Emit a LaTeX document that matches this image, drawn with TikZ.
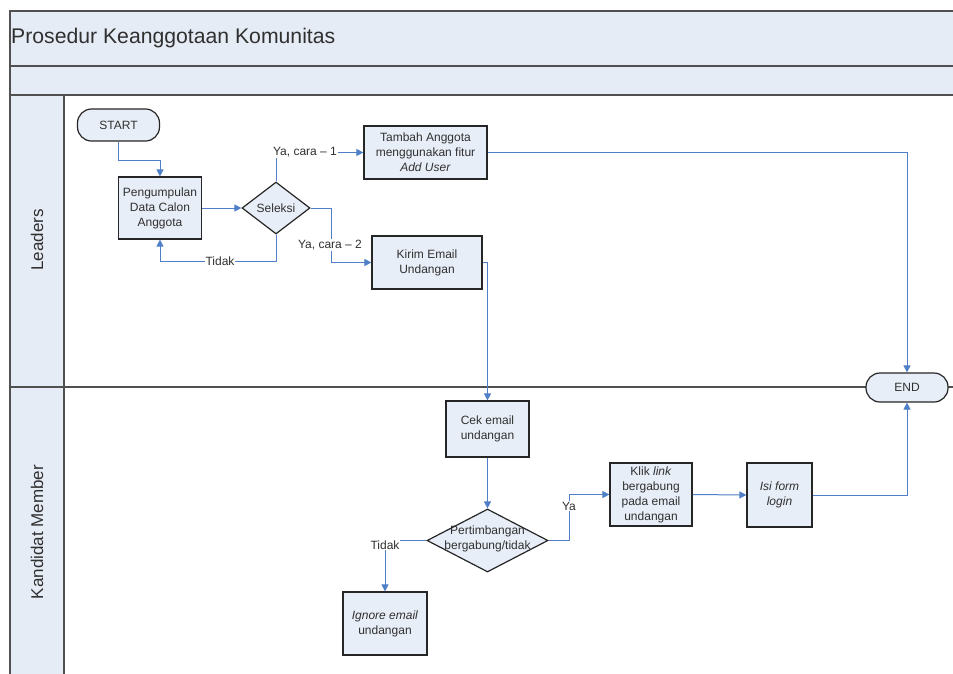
\documentclass[tikz,border=0pt]{standalone}
\usepackage{fontspec}
\setmainfont{Liberation Sans}
\usetikzlibrary{shapes.geometric,arrows.meta}
\definecolor{lanefill}{HTML}{E6ECF6}
\definecolor{boxfill}{HTML}{E8EEF8}
\definecolor{flow}{HTML}{4F7FC6}
\definecolor{framecol}{HTML}{505050}
\definecolor{inkcol}{HTML}{303030}
\tikzset{
  boxtext/.style={font=\fontsize{12}{15}\selectfont, align=center, text=inkcol},
  process/.style={draw=black!85, line width=1.2pt, fill=boxfill, inner sep=0pt, boxtext},
  terminal/.style={draw=black!85, line width=1.2pt, fill=boxfill, inner sep=0pt,
    rounded corners=14pt, minimum width=82pt, boxtext},
  decision/.style={diamond, draw=black!85, line width=1.2pt, fill=boxfill, inner sep=0pt},
  flowline/.style={draw=flow, line width=1pt, -{Triangle[length=7pt,width=7pt]}},
  lbl/.style={fill=white, inner sep=1pt, font=\fontsize{12}{14}\selectfont, text=inkcol},
  lanebar/.style={draw=framecol, line width=1.1pt, fill=lanefill},
  lanetitle/.style={rotate=90, font=\fontsize{17}{20}\selectfont, text=inkcol},
}
\begin{document}
\begin{tikzpicture}[x=1pt, y=-1pt]
  \useasboundingbox (0,0) rectangle (953,673);
  \clip (0,0) rectangle (953,673);

  % pool header and lane column
  \draw[lanebar] (10,11) rectangle (970,66);
  \draw[lanebar] (10,66) rectangle (970,95);
  \draw[draw=framecol, line width=1.1pt, fill=white] (64,95) rectangle (970,700);
  \draw[lanebar] (10,95) rectangle (64,700);
  \draw[draw=framecol, line width=1.1pt] (10,387) -- (970,387);
  \node[anchor=west, font=\fontsize{21.2}{25}\selectfont, inner sep=0pt, text=inkcol] (title) at (11,38) {Prosedur Keanggotaan Komunitas};
  \node[lanetitle] (laneA) at (37,240) {Leaders};
  \node[lanetitle] (laneB) at (37,532) {Kandidat Member};

  % Leaders lane
  \node[terminal, minimum height=32pt] (start) at (118.5,125) {START};
  \node[process, minimum width=83pt, minimum height=62pt] (peng) at (160,208) {Pengumpulan\\Data Calon\\Anggota};
  \node[decision, minimum width=68pt, minimum height=52pt] (sel) at (276,208) {};
  \node[boxtext] (seltxt) at (sel.center) {Seleksi};
  \node[process, minimum width=123pt, minimum height=53pt] (tam) at (425.5,152.5) {Tambah Anggota\\menggunakan fitur\\\textit{Add User}};
  \node[process, minimum width=110pt, minimum height=53pt] (kir) at (427,262.5) {Kirim Email\\Undangan};

  % Kandidat Member lane
  \node[process, minimum width=83pt, minimum height=56pt] (cek) at (487.5,429) {Cek email\\undangan};
  \node[decision, minimum width=121pt, minimum height=63pt] (pert) at (487.5,540.5) {};
  \node[boxtext] (perttxt) at (487.5,539) {Pertimbangan\\bergabung/tidak};
  \node[process, minimum width=82pt, minimum height=63pt] (klik) at (651,494.5) {Klik \textit{link}\\bergabung\\pada email\\undangan};
  \node[process, minimum width=65pt, minimum height=64pt] (isi) at (779.5,495) {\textit{Isi form}\\\textit{login}};
  \node[process, minimum width=84pt, minimum height=63pt] (ign) at (385,623.5) {\textit{Ignore email}\\undangan};

  % connectors
  \draw[flowline] (start.south) -- ++(0,19) -| (peng.north);
  \draw[flowline] (peng.east) -- (sel.west);
  \draw[flowline] (sel.north) |- (tam.west);
  \draw[flowline] (sel.east) -- ++(21,0) |- (kir.west);
  \draw[flowline] (sel.south) -- ++(0,27) -| (peng.south);
  \draw[flowline] (kir.east) -| (cek.north);
  \draw[flowline] (cek.south) -- (pert.north);
  \draw[flowline] (pert.east) -- ++(21,0) |- (klik.west);
  \draw[flowline] (pert.west) -| (ign.north);
  \draw[flowline] (klik.east) -- (isi.west);

  \node[terminal, minimum height=29pt] (end) at (907,387.5) {END};
  \draw[flowline] (tam.east) -| (end.north);
  \draw[flowline] (isi.east) -| (end.south);

  % connector labels
  \node[lbl] (l1) at (305,152) {Ya, cara -- 1};
  \node[lbl] (l2) at (330,245) {Ya, cara -- 2};
  \node[lbl] (l3) at (220,261) {Tidak};
  \node[lbl] (l4) at (569,506) {Ya};
  \node[lbl] (l5) at (385,545) {Tidak};
\end{tikzpicture}
\end{document}
